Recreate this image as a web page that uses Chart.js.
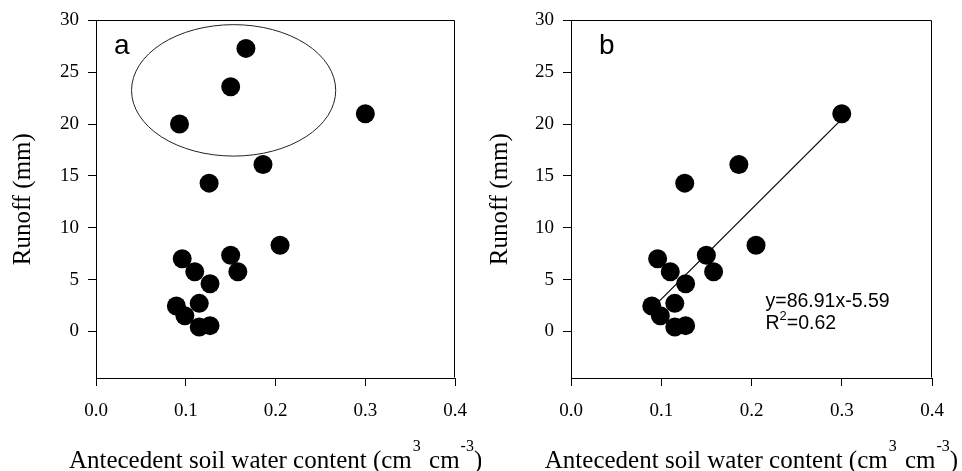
<!DOCTYPE html>
<html><head><meta charset="utf-8">
<script src="https://cdn.jsdelivr.net/npm/chart.js@4"></script>
<style>
html,body{margin:0;padding:0;background:#fff;}
#wrap{position:relative;width:962px;height:471px;overflow:hidden;}
#wrap canvas{position:absolute;top:0;}
</style></head><body>
<div id="wrap">
<canvas id="ca" width="481" height="471" style="left:0"></canvas>
<canvas id="cb" width="481" height="471" style="left:481px"></canvas>
</div>
<script>
// ---- data ----
const xTicks = [0, 0.1, 0.2, 0.3, 0.4];
const yTicks = [0, 5, 10, 15, 20, 25, 30];
// events used in both panels
const soilWater = [0.300, 0.186, 0.126, 0.205, 0.096, 0.150, 0.110, 0.158, 0.127, 0.0895, 0.115, 0.099, 0.115, 0.127];
const runoff    = [21.0, 16.1, 14.3, 8.3, 7.0, 7.35, 5.75, 5.75, 4.6, 2.45, 2.7, 1.5, 0.42, 0.55];
// circled events shown only in panel a
const circledSoilWater = [0.167, 0.150, 0.093];
const circledRunoff    = [27.3, 23.6, 20.0];
// regression line in panel b (y = 86.91x - 5.59)
const fitX = [0.0895, 0.300];
const fitY = [2.19, 20.48];
const panelLabels = ['a', 'b'];
const equationText = 'y=86.91x-5.59';
const r2Value = '=0.62';
// ellipse around circled points (data units)
const ellipse = {cx: 0.1533, cy: 23.25, rx: 0.1137, ry: 6.34};

const serif = 'Liberation Serif, Times New Roman, serif';
const sans = 'Liberation Sans, Arial, sans-serif';
Chart.defaults.font.family = serif;
Chart.defaults.color = '#000';

function pts(xs, ys) { return xs.map((x, i) => ({x: x, y: ys[i]})); }

const framePlugin = {
  id: 'frame',
  afterDraw(chart) {
    const ctx = chart.ctx, a = chart.chartArea;
    ctx.save();
    ctx.strokeStyle = '#000';
    ctx.lineWidth = 1;
    ctx.beginPath();
    const l = Math.round(a.left) + 0.5, r = Math.round(a.right) - 0.5;
    const t = Math.round(a.top) + 0.5, b = Math.round(a.bottom) - 0.5;
    ctx.moveTo(l, t); ctx.lineTo(r, t); ctx.lineTo(r, b);
    ctx.stroke();
    // x title with superscripts
    const parts = [['Antecedent soil water content (cm', 0, 0], ['3', 1, 1], [' cm', 0, 2], ['-3', 1, 1], [')', 0, 0]];
    const mainFont = '25px ' + serif, supFont = '16px ' + serif;
    let total = 0;
    parts.forEach(p => { ctx.font = p[1] ? supFont : mainFont; total += ctx.measureText(p[0]).width + p[2]; });
    let x = (a.left + a.right) / 2 - total / 2;
    const base = a.bottom + 89.5;
    ctx.fillStyle = '#000';
    ctx.textBaseline = 'alphabetic';
    ctx.textAlign = 'left';
    parts.forEach(p => {
      ctx.font = p[1] ? supFont : mainFont;
      ctx.fillText(p[0], x + (p[1] ? 1 : p[2]), p[1] ? base - 17 : base);
      x += ctx.measureText(p[0]).width + p[2];
    });
    ctx.restore();
  }
};

function makeOptions(yWidth, padRight, titlePad, labelDx, labelText) {
  return {
    responsive: false,
    animation: false,
    layout: {padding: {left: 0, right: padRight, top: 18, bottom: 0}},
    plugins: {legend: {display: false}, tooltip: {enabled: false},
      panelLabel: {text: labelText, dx: labelDx}},
    scales: {
      x: {
        type: 'linear', min: 0, max: 0.4,
        afterBuildTicks: s => { s.ticks = xTicks.map(v => ({value: v})); },
        afterFit: s => { s.height = 93; },
        ticks: {callback: v => Number(v).toFixed(1), font: {family: serif, size: 19}, color: '#000', padding: 14, maxRotation: 0, autoSkip: false},
        grid: {drawOnChartArea: false, tickLength: 8, color: '#000', lineWidth: 1},
        border: {color: '#000', width: 1}
      },
      y: {
        type: 'linear', min: -4.5, max: 30,
        afterBuildTicks: s => { s.ticks = yTicks.map(v => ({value: v})); },
        afterFit: s => { s.width = yWidth; },
        ticks: {font: {family: serif, size: 19}, color: '#000', padding: 9, autoSkip: false},
        grid: {drawOnChartArea: false, tickLength: 8, color: '#000', lineWidth: 1},
        border: {color: '#000', width: 1},
        title: {display: true, text: 'Runoff (mm)', font: {family: serif, size: 25}, color: '#000', padding: {top: titlePad, bottom: 0}}
      }
    }
  };
}

const labelPlugin = {
  id: 'panelLabel',
  afterDraw(chart, args, opts) {
    const ctx = chart.ctx, a = chart.chartArea;
    ctx.save();
    ctx.fillStyle = '#000';
    ctx.font = '28px ' + sans;
    ctx.textBaseline = 'alphabetic';
    ctx.textAlign = 'left';
    ctx.fillText(opts.text, a.left + opts.dx, a.top + 34);
    ctx.restore();
  }
};

const ellipsePlugin = {
  id: 'ellipse',
  afterDatasetsDraw(chart) {
    const ctx = chart.ctx, xs = chart.scales.x, ys = chart.scales.y;
    const cx = xs.getPixelForValue(ellipse.cx), cy = ys.getPixelForValue(ellipse.cy);
    const rx = Math.abs(xs.getPixelForValue(ellipse.cx + ellipse.rx) - cx);
    const ry = Math.abs(ys.getPixelForValue(ellipse.cy + ellipse.ry) - cy);
    ctx.save();
    ctx.strokeStyle = '#222';
    ctx.lineWidth = 1;
    ctx.beginPath();
    ctx.ellipse(cx, cy, rx, ry, 0, 0, Math.PI * 2);
    ctx.stroke();
    ctx.restore();
  }
};

const equationPlugin = {
  id: 'equation',
  afterDatasetsDraw(chart) {
    const ctx = chart.ctx, xs = chart.scales.x, ys = chart.scales.y;
    const x0 = xs.getPixelForValue(0.2155);
    const y1 = ys.getPixelForValue(2.39);
    const y2 = ys.getPixelForValue(0.23);
    ctx.save();
    ctx.fillStyle = '#000';
    ctx.textBaseline = 'alphabetic';
    ctx.textAlign = 'left';
    ctx.font = '19.5px ' + sans;
    ctx.fillText(equationText, x0, y1);
    ctx.fillText('R', x0, y2);
    let w = ctx.measureText('R').width;
    ctx.font = '13px ' + sans;
    ctx.fillText('2', x0 + w, y2 - 9);
    w += ctx.measureText('2').width;
    ctx.font = '19.5px ' + sans;
    ctx.fillText(r2Value, x0 + w, y2);
    ctx.restore();
  }
};

const pointStyle = {type: 'scatter', pointRadius: 9.5, pointHoverRadius: 9.5, pointBackgroundColor: '#000', pointBorderColor: '#000', pointBorderWidth: 0, showLine: false};

new Chart(document.getElementById('ca'), {
  type: 'scatter',
  data: {datasets: [
    Object.assign({label: 'events', data: pts(soilWater, runoff)}, pointStyle),
    Object.assign({label: 'circled', data: pts(circledSoilWater, circledRunoff)}, pointStyle)
  ]},
  options: makeOptions(96, 24, 8, 18, panelLabels[0]),
  plugins: [framePlugin, labelPlugin, ellipsePlugin]
});

new Chart(document.getElementById('cb'), {
  type: 'scatter',
  data: {datasets: [
    {type: 'line', label: 'fit', data: pts(fitX, fitY), borderColor: '#000', borderWidth: 1.2, pointRadius: 0, fill: false, order: 2},
    Object.assign({label: 'events', data: pts(soilWater, runoff), order: 1}, pointStyle)
  ]},
  options: makeOptions(90, 30, 4, 28, panelLabels[1]),
  plugins: [framePlugin, labelPlugin, equationPlugin]
});
</script>
</body></html>
